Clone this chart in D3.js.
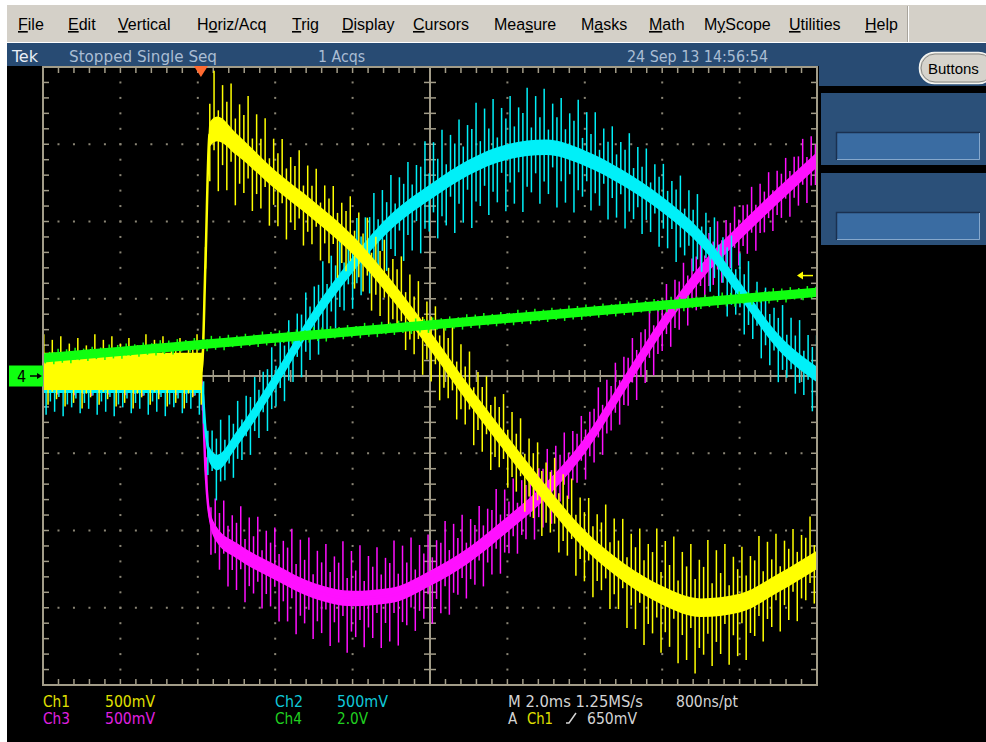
<!DOCTYPE html>
<html><head><meta charset="utf-8">
<script src="https://cdn.jsdelivr.net/npm/d3@7"></script>
<style>html,body{margin:0;padding:0;background:#fff}svg{display:block}</style>
</head><body>
<svg id="scope" width="986" height="742"></svg>
<script>
// ---- acquisition record (time in ms from start of record, values in volts) ----
const timeMs   = [0, 1, 2, 3, 4, 4.1, 4.2, 4.3, 4.5, 5, 6, 7, 8, 9, 10, 11, 12, 13, 14, 15, 16, 17, 18, 19, 20];
const ch1Volts = [0.03, 0.03, 0.03, 0.03, 0.03, 0.03, 0.75, 1.56, 1.60, 1.50, 1.27, 1.07, 0.85, 0.56, 0.23, -0.12, -0.45, -0.77, -1.06, -1.27, -1.42, -1.50, -1.47, -1.34, -1.19];
const ch1Band  = [0.12, 0.12, 0.12, 0.12, 0.12, 0.12, 0.04, 0.08, 0.08, 0.07, 0.06, 0.06, 0.06, 0.06, 0.06, 0.06, 0.06, 0.06, 0.06, 0.06, 0.06, 0.06, 0.06, 0.06, 0.06];
const ch1Ripple= [0.24, 0.24, 0.24, 0.24, 0.24, 0.24, 0.10, 0.40, 0.42, 0.40, 0.34, 0.30, 0.30, 0.30, 0.30, 0.30, 0.30, 0.30, 0.32, 0.36, 0.42, 0.44, 0.40, 0.34, 0.30];
const ch2Volts = [-0.07, -0.07, -0.07, -0.07, -0.07, -0.07, -0.35, -0.51, -0.56, -0.41, -0.03, 0.38, 0.72, 1.00, 1.19, 1.35, 1.45, 1.48, 1.41, 1.28, 1.11, 0.89, 0.56, 0.22, 0.01];
const ch2Band  = [0.04, 0.04, 0.04, 0.04, 0.04, 0.04, 0.04, 0.05, 0.05, 0.05, 0.05, 0.05, 0.05, 0.05, 0.05, 0.05, 0.05, 0.05, 0.05, 0.05, 0.05, 0.05, 0.05, 0.05, 0.05];
const ch2Ripple= [0.19, 0.19, 0.19, 0.19, 0.19, 0.19, 0.20, 0.25, 0.25, 0.25, 0.25, 0.28, 0.30, 0.32, 0.36, 0.40, 0.40, 0.40, 0.36, 0.32, 0.30, 0.28, 0.28, 0.26, 0.28];
const ch3Volts = [-0.03, -0.03, -0.03, -0.03, -0.03, -0.03, -0.61, -0.90, -1.03, -1.13, -1.27, -1.39, -1.44, -1.42, -1.31, -1.16, -0.96, -0.74, -0.45, -0.06, 0.33, 0.67, 0.93, 1.17, 1.40];
const ch3Band  = [0.04, 0.04, 0.04, 0.04, 0.04, 0.04, 0.04, 0.05, 0.05, 0.05, 0.05, 0.05, 0.05, 0.05, 0.05, 0.05, 0.05, 0.05, 0.05, 0.05, 0.05, 0.05, 0.05, 0.05, 0.05];
const ch3Ripple= [0.10, 0.10, 0.10, 0.10, 0.10, 0.10, 0.15, 0.25, 0.28, 0.30, 0.32, 0.35, 0.36, 0.35, 0.32, 0.30, 0.28, 0.26, 0.24, 0.24, 0.24, 0.24, 0.22, 0.22, 0.22];
const ch4Times = [0, 20];
const ch4Volts = [0.47, 2.17];
const ch4Band  = [0.12, 0.12];
const ch4Ripple= [0.20, 0.20];

// vertical settings
const channelNames  = ["Ch1", "Ch2", "Ch3", "Ch4"];
const channelScales = ["500mV", "500mV", "500mV", "2.0V"];
const voltsPerDiv   = [0.5, 0.5, 0.5, 2.0];

// horizontal / trigger settings
const recordMs      = 20;
const triggerTimeMs = 4.08;
const triggerLevelV = 0.65;
const switchPeriodMs = 0.11;          // ripple spike spacing
const spikeShape = [1, 0.55, 0.85, 0.4, 0.95, 0.6, 0.75, 0.35, 0.9, 0.5, 0.7, 0.3];

// UI text
const menuItems    = ["File", "Edit", "Vertical", "Horiz/Acq", "Trig", "Display", "Cursors", "Measure", "Masks", "Math", "MyScope", "Utilities", "Help"];
const menuMnemonic = [0, 0, 0, 1, 0, 0, 0, 3, 1, 0, 1, 0, 0];
const statusTexts  = ["Tek", "Stopped  Single Seq", "1 Acqs", "24 Sep 13 14:56:54"];
const timebaseText = ["M 2.0ms 1.25MS/s", "800ns/pt"];
const triggerText  = ["A", "Ch1", "650mV"];

// ---- drawing ----
const svg = d3.select("#scope");
const plot = {left: 43, right: 817, top: 67, bottom: 685};
const x = d3.scaleLinear().domain([0, recordMs]).range([plot.left, plot.right]);
const divY = d3.scaleLinear().domain([-4, 4]).range([plot.bottom, plot.top]);
const colors = ["#ffff00", "#00f0f8", "#ff10ff", "#10ff10"];
const labelColors = ["#e0e000", "#10c8d8", "#e020e0", "#20d020"];
const scopeFont = "'DejaVu Sans Condensed', 'DejaVu Sans', sans-serif";
const uiFont = "'Liberation Sans', Arial, sans-serif";

// window chrome
svg.append("rect").attr("x", 0).attr("y", 0).attr("width", 986).attr("height", 742).attr("fill", "#ffffff");
svg.append("rect").attr("x", 7).attr("y", 5).attr("width", 979).attr("height", 38).attr("fill", "#d4d0c8");
svg.append("line").attr("x1", 7).attr("x2", 986).attr("y1", 42.5).attr("y2", 42.5).attr("stroke", "#ffffff");
svg.append("line").attr("x1", 907.5).attr("x2", 907.5).attr("y1", 6).attr("y2", 42).attr("stroke", "#a8a49c");
svg.append("line").attr("x1", 908.5).attr("x2", 908.5).attr("y1", 6).attr("y2", 42).attr("stroke", "#ffffff");
svg.append("rect").attr("x", 7).attr("y", 43).attr("width", 979).attr("height", 699).attr("fill", "#000000");
svg.append("rect").attr("x", 7).attr("y", 43).attr("width", 979).attr("height", 23).attr("fill", "#284b73");
svg.append("rect").attr("x", 819).attr("y", 43).attr("width", 167).attr("height", 43).attr("fill", "#284b73");

// menu bar with mnemonic underlines
const menuLeft = [18, 68, 118, 197, 292, 342, 413, 494, 581, 649, 704, 789, 865];
menuItems.forEach((name, i) => {
  const t = svg.append("text").attr("x", menuLeft[i]).attr("y", 30)
    .attr("font-family", uiFont).attr("font-size", 16).attr("fill", "#000");
  const k = menuMnemonic[i];
  if (k > 0) t.append("tspan").text(name.slice(0, k));
  t.append("tspan").attr("text-decoration", "underline").text(name[k]);
  if (k + 1 < name.length) t.append("tspan").text(name.slice(k + 1));
});

// status line
const statusX = [12, 69, 318, 627];
const statusW = [26, 148, 47, 141];
statusTexts.forEach((s, i) => {
  svg.append("text").attr("x", statusX[i]).attr("y", 62)
    .attr("font-family", scopeFont).attr("font-size", 15)
    .attr("textLength", statusW[i]).attr("lengthAdjust", "spacingAndGlyphs")
    .attr("fill", i === 0 ? "#e8eef6" : "#aabdd4").text(s);
});

// side panel
const btn = svg.append("g");
btn.append("rect").attr("x", 919.5).attr("y", 52.5).attr("width", 74).attr("height", 31).attr("rx", 15)
  .attr("fill", "#d6d3cc").attr("stroke", "#f4f4f0").attr("stroke-width", 1.5);
btn.append("rect").attr("x", 921).attr("y", 54).attr("width", 72).attr("height", 28).attr("rx", 14)
  .attr("fill", "none").attr("stroke", "#8a8a86").attr("stroke-width", 1);
btn.append("text").attr("x", 928).attr("y", 74).attr("font-family", uiFont).attr("font-size", 15)
  .attr("fill", "#000").text("Buttons");
[93, 173].forEach(py => {
  svg.append("rect").attr("x", 821).attr("y", py).attr("width", 165).attr("height", 72).attr("fill", "#2b5079");
  svg.append("rect").attr("x", 836).attr("y", py + 39).attr("width", 144).attr("height", 28).attr("fill", "#3a6ca2");
  svg.append("path").attr("d", `M836.5,${py + 67}V${py + 39.5}H980`).attr("fill", "none").attr("stroke", "#1a3050").attr("stroke-width", 1.5);
  svg.append("path").attr("d", `M837,${py + 66.5}H979.5V${py + 40}`).attr("fill", "none").attr("stroke", "#86a8cc").attr("stroke-width", 1);
});

// graticule
const gridColor = "#a29c88";
const grat = svg.append("g");
const minorX = d3.range(0, recordMs + 1e-6, recordMs / 50).map(x);
const minorY = d3.range(-4, 4 + 1e-6, 0.2).map(divY);
const majorX = d3.range(1, 10).map(k => x(k * recordMs / 10));
const majorY = d3.range(-3, 4).map(divY);
// dotted division lines
majorX.forEach(px => {
  if (Math.abs(px - x(recordMs / 2)) < 1) return;
  minorY.forEach(py => grat.append("rect").attr("x", px - 1).attr("y", py - 1).attr("width", 2).attr("height", 2).attr("fill", "#8a8575"));
});
majorY.forEach(py => {
  if (Math.abs(py - divY(0)) < 1) return;
  minorX.forEach(px => grat.append("rect").attr("x", px - 1).attr("y", py - 1).attr("width", 2).attr("height", 2).attr("fill", "#8a8575"));
});
// centre cross with minor ticks
const cx = x(recordMs / 2), cy = divY(0);
grat.append("line").attr("x1", plot.left).attr("x2", plot.right).attr("y1", cy).attr("y2", cy).attr("stroke", gridColor).attr("stroke-width", 2);
grat.append("line").attr("x1", cx).attr("x2", cx).attr("y1", plot.top).attr("y2", plot.bottom).attr("stroke", gridColor).attr("stroke-width", 2);
minorX.forEach(px => {
  grat.append("line").attr("x1", px).attr("x2", px).attr("y1", cy - 6).attr("y2", cy + 6).attr("stroke", gridColor).attr("stroke-width", 1.5);
  grat.append("line").attr("x1", px).attr("x2", px).attr("y1", plot.top).attr("y2", plot.top + 6).attr("stroke", gridColor).attr("stroke-width", 1.5);
  grat.append("line").attr("x1", px).attr("x2", px).attr("y1", plot.bottom - 6).attr("y2", plot.bottom).attr("stroke", gridColor).attr("stroke-width", 1.5);
});
minorY.forEach(py => {
  grat.append("line").attr("x1", cx - 6).attr("x2", cx + 6).attr("y1", py).attr("y2", py).attr("stroke", gridColor).attr("stroke-width", 1.5);
  grat.append("line").attr("x1", plot.left).attr("x2", plot.left + 6).attr("y1", py).attr("y2", py).attr("stroke", gridColor).attr("stroke-width", 1.5);
  grat.append("line").attr("x1", plot.right - 6).attr("x2", plot.right).attr("y1", py).attr("y2", py).attr("stroke", gridColor).attr("stroke-width", 1.5);
});
grat.append("rect").attr("x", plot.left).attr("y", plot.top).attr("width", plot.right - plot.left)
  .attr("height", plot.bottom - plot.top).attr("fill", "none").attr("stroke", gridColor).attr("stroke-width", 2);

// waveforms
svg.append("clipPath").attr("id", "plotClip").append("rect")
  .attr("x", plot.left + 1).attr("y", plot.top + 1).attr("width", plot.right - plot.left - 2).attr("height", plot.bottom - plot.top - 2);
const traces = svg.append("g").attr("clip-path", "url(#plotClip)");

function drawTrace(times, volts, band, ripple, ch, phase) {
  const vpd = voltsPerDiv[ch];
  const yv = v => divY(v / vpd);
  const g = traces.append("g");
  const center = d3.scaleLinear().domain(times).range(volts);
  const rip = d3.scaleLinear().domain(times).range(ripple);
  const pts = times.map((t, i) => ({t, v: volts[i], b: band[i]}));
  // ripple spikes at the switching rate
  const n = spikeShape.length;
  const spikes = d3.range(phase, recordMs, switchPeriodMs).map((t, i) => {
    const c = center(t), r = rip(t);
    return {t, hi: c + r * spikeShape[(i * 7 + ch) % n], lo: c - r * spikeShape[(i * 5 + 3 + ch) % n]};
  });
  g.selectAll("line.spike").data(spikes).join("line").attr("class", "spike")
    .attr("x1", d => x(d.t)).attr("x2", d => x(d.t))
    .attr("y1", d => yv(d.hi)).attr("y2", d => yv(d.lo))
    .attr("stroke", colors[ch]).attr("stroke-width", 1.5);
  // dense core of the trace
  g.append("path").datum(pts)
    .attr("d", d3.area().curve(d3.curveMonotoneX).x(d => x(d.t)).y0(d => yv(d.v - d.b)).y1(d => yv(d.v + d.b)))
    .attr("fill", colors[ch]);
  g.append("path").datum(pts)
    .attr("d", d3.line().curve(d3.curveMonotoneX).x(d => x(d.t)).y(d => yv(d.v)))
    .attr("fill", "none").attr("stroke", colors[ch]).attr("stroke-width", 2.5);
}
drawTrace(timeMs, ch3Volts, ch3Band, ch3Ripple, 2, 0.05);
drawTrace(timeMs, ch2Volts, ch2Band, ch2Ripple, 1, 0.08);
drawTrace(timeMs, ch1Volts, ch1Band, ch1Ripple, 0, 0.02);
drawTrace(ch4Times, ch4Volts, ch4Band, ch4Ripple, 3, 0.06);

// trigger position marker
const tx = x(triggerTimeMs);
svg.append("path").attr("d", `M${tx - 7},66L${tx + 7},66L${tx},77Z`).attr("fill", "#ff6a30");
// trigger level marker (Ch1)
const ty = divY(triggerLevelV / voltsPerDiv[0]);
svg.append("path").attr("d", `M797,${ty}L803,${ty - 4}L803,${ty + 4}Z`).attr("fill", colors[0]);
svg.append("line").attr("x1", 802).attr("x2", 813).attr("y1", ty).attr("y2", ty).attr("stroke", colors[0]).attr("stroke-width", 1.5);
// Ch4 ground marker
const gy = divY(0);
svg.append("rect").attr("x", 9).attr("y", gy - 10.5).attr("width", 34).attr("height", 21).attr("fill", "#10ff10");
svg.append("text").attr("x", 17).attr("y", gy + 6).attr("font-family", scopeFont).attr("font-size", 16).attr("fill", "#000").text("4");
svg.append("line").attr("x1", 30).attr("x2", 39).attr("y1", gy).attr("y2", gy).attr("stroke", "#000").attr("stroke-width", 1.5);
svg.append("path").attr("d", `M42,${gy}L37,${gy - 3}L37,${gy + 3}Z`).attr("fill", "#000");

// channel readouts
const readX = [[43, 105], [275, 337], [43, 105], [275, 337]];
const readY = [707, 707, 724, 724];
const readW = [[27, 50], [28, 51], [27, 50], [27, 31]];
channelNames.forEach((n, i) => {
  svg.append("text").attr("x", readX[i][0]).attr("y", readY[i]).attr("font-family", scopeFont).attr("font-size", 15)
    .attr("textLength", readW[i][0]).attr("lengthAdjust", "spacingAndGlyphs").attr("fill", labelColors[i]).text(n);
  svg.append("text").attr("x", readX[i][1]).attr("y", readY[i]).attr("font-family", scopeFont).attr("font-size", 15)
    .attr("textLength", readW[i][1]).attr("lengthAdjust", "spacingAndGlyphs").attr("fill", labelColors[i]).text(channelScales[i]);
});
// timebase and trigger readouts
const grayText = "#d4d4d4";
svg.append("text").attr("x", 508).attr("y", 707).attr("font-family", scopeFont).attr("font-size", 15)
  .attr("textLength", 135).attr("lengthAdjust", "spacingAndGlyphs").attr("fill", grayText).text(timebaseText[0]);
svg.append("text").attr("x", 676).attr("y", 707).attr("font-family", scopeFont).attr("font-size", 15)
  .attr("textLength", 62).attr("lengthAdjust", "spacingAndGlyphs").attr("fill", grayText).text(timebaseText[1]);
svg.append("text").attr("x", 508).attr("y", 724).attr("font-family", scopeFont).attr("font-size", 15).attr("fill", grayText).text(triggerText[0]);
svg.append("text").attr("x", 527).attr("y", 724).attr("font-family", scopeFont).attr("font-size", 15)
  .attr("textLength", 26).attr("lengthAdjust", "spacingAndGlyphs").attr("fill", labelColors[0]).text(triggerText[1]);
svg.append("path").attr("d", "M566,723H569L576,713").attr("fill", "none").attr("stroke", grayText).attr("stroke-width", 1.5);
svg.append("text").attr("x", 587).attr("y", 724).attr("font-family", scopeFont).attr("font-size", 15)
  .attr("textLength", 50).attr("lengthAdjust", "spacingAndGlyphs").attr("fill", grayText).text(triggerText[2]);
</script>
</body></html>
